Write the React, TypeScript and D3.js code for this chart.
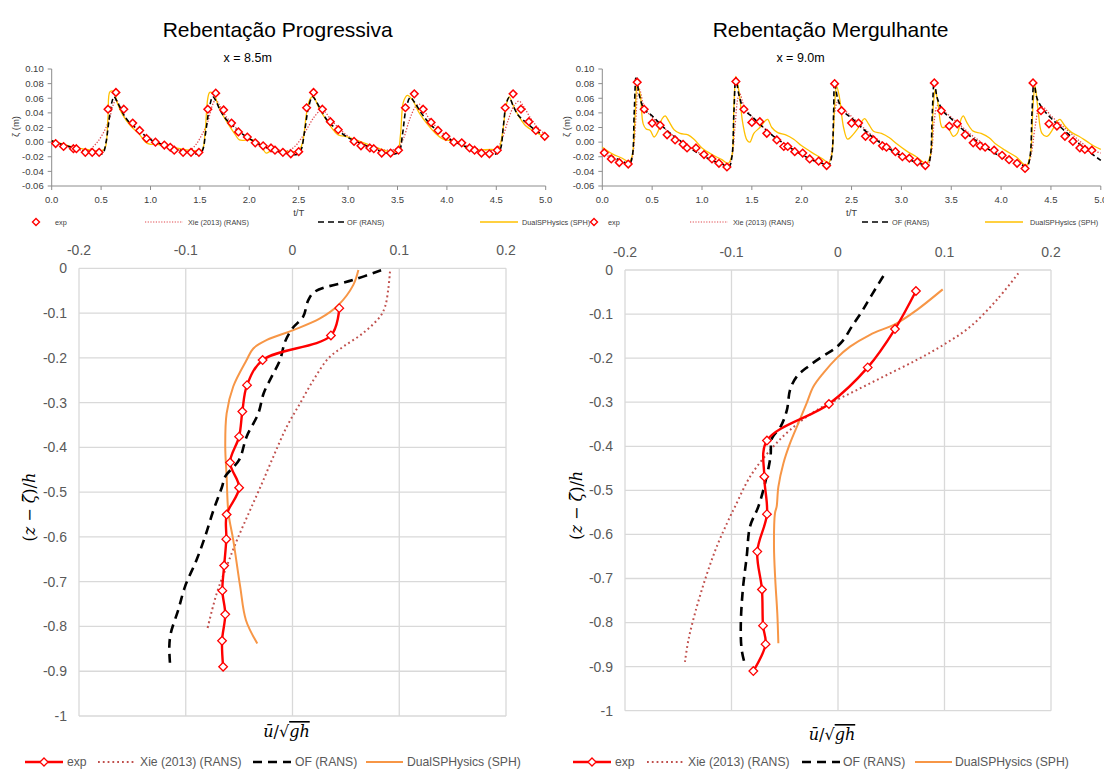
import React from 'react';
import * as d3 from 'd3';

// time series (top): t/T vs free surface elevation
const tTicks = [0, 0.5, 1, 1.5, 2, 2.5, 3, 3.5, 4, 4.5, 5];
const zetaTicks = [-0.06, -0.04, -0.02, 0, 0.02, 0.04, 0.06, 0.08, 0.1];

type Pt = [number, number];

// x = 8.5m (Rebentação Progressiva)
const progExp: Pt[] = [
  [0.04, -0.002], [0.12, -0.006], [0.22, -0.009], [0.25, -0.009], [0.34, -0.014], [0.41, -0.014], [0.48, -0.014],
  [0.57, 0.045], [0.65, 0.068], [0.73, 0.045], [0.82, 0.026], [0.89, 0.016], [0.96, 0.005], [1.05, 0.0],
  [1.14, -0.004], [1.2, -0.007], [1.24, -0.011], [1.33, -0.014], [1.41, -0.014], [1.49, -0.014],
  [1.58, 0.045], [1.66, 0.067], [1.74, 0.044], [1.82, 0.026], [1.89, 0.014], [1.98, 0.007], [2.06, -0.001],
  [2.14, -0.005], [2.22, -0.008], [2.26, -0.011], [2.34, -0.014], [2.42, -0.016], [2.5, -0.013],
  [2.58, 0.047], [2.65, 0.068], [2.74, 0.045], [2.82, 0.028], [2.9, 0.017], [3.06, 0.001], [3.13, -0.005],
  [3.22, -0.008], [3.26, -0.009], [3.34, -0.015], [3.43, -0.015], [3.51, -0.011],
  [3.58, 0.047], [3.67, 0.066], [3.76, 0.045], [3.84, 0.027], [3.91, 0.016], [3.99, 0.008], [4.07, 0.0],
  [4.15, -0.001], [4.23, -0.008], [4.28, -0.011], [4.35, -0.015], [4.43, -0.016], [4.51, -0.011],
  [4.59, 0.047], [4.67, 0.066], [4.75, 0.045], [4.83, 0.028], [4.9, 0.016], [4.99, 0.008],
];
const progXie: Pt[] = [
  [0, 0.0], [0.1, -0.004], [0.2, -0.008], [0.3, -0.011], [0.36, -0.012], [0.45, -0.002], [0.52, 0.012], [0.58, 0.03],
  [0.62, 0.05], [0.65, 0.058], [0.68, 0.052], [0.72, 0.038], [0.8, 0.025], [0.9, 0.014], [1.0, 0.005], [1.1, -0.002],
  [1.2, -0.007], [1.3, -0.01], [1.38, -0.012], [1.45, -0.005], [1.52, 0.01], [1.58, 0.028], [1.62, 0.048], [1.66, 0.058],
  [1.7, 0.05], [1.75, 0.038], [1.82, 0.026], [1.9, 0.015], [2.0, 0.005], [2.1, -0.003], [2.2, -0.008], [2.3, -0.011],
  [2.38, -0.012], [2.46, -0.006], [2.54, 0.008], [2.6, 0.022], [2.66, 0.035], [2.72, 0.043], [2.76, 0.042], [2.82, 0.032],
  [2.9, 0.02], [3.0, 0.008], [3.1, 0.0], [3.2, -0.005], [3.3, -0.009], [3.4, -0.011], [3.5, -0.008], [3.56, 0.005],
  [3.62, 0.03], [3.68, 0.048], [3.72, 0.052], [3.76, 0.046], [3.82, 0.032], [3.9, 0.02], [4.0, 0.008], [4.1, 0.0],
  [4.2, -0.005], [4.3, -0.009], [4.4, -0.011], [4.5, -0.01], [4.56, 0.005], [4.62, 0.03], [4.68, 0.05], [4.73, 0.056],
  [4.78, 0.048], [4.85, 0.032], [4.92, 0.02], [5.0, 0.01],
];
const progOF: Pt[] = [
  [0, 0.002], [0.1, -0.003], [0.2, -0.007], [0.3, -0.011], [0.4, -0.015], [0.48, -0.017], [0.52, -0.015], [0.55, 0.0],
  [0.58, 0.03], [0.61, 0.055], [0.63, 0.062], [0.66, 0.056], [0.7, 0.045], [0.75, 0.033], [0.8, 0.025], [0.88, 0.017],
  [0.95, 0.008], [1.05, 0.0], [1.15, -0.004], [1.25, -0.009], [1.35, -0.013], [1.45, -0.016], [1.5, -0.016], [1.53, -0.01],
  [1.56, 0.015], [1.6, 0.05], [1.63, 0.062], [1.66, 0.057], [1.7, 0.045], [1.76, 0.032], [1.82, 0.024], [1.9, 0.014],
  [2.0, 0.005], [2.1, -0.003], [2.2, -0.009], [2.3, -0.013], [2.4, -0.016], [2.48, -0.017], [2.52, -0.012], [2.56, 0.015],
  [2.6, 0.048], [2.64, 0.062], [2.68, 0.055], [2.74, 0.04], [2.8, 0.028], [2.9, 0.016], [3.0, 0.006], [3.1, 0.0],
  [3.2, -0.006], [3.3, -0.011], [3.4, -0.015], [3.48, -0.016], [3.52, -0.012], [3.55, 0.01], [3.59, 0.048], [3.63, 0.061],
  [3.67, 0.055], [3.74, 0.04], [3.82, 0.026], [3.9, 0.016], [4.0, 0.006], [4.1, -0.001], [4.2, -0.007], [4.3, -0.012],
  [4.4, -0.015], [4.5, -0.016], [4.54, -0.01], [4.57, 0.02], [4.6, 0.052], [4.63, 0.061], [4.67, 0.05], [4.72, 0.037],
  [4.8, 0.027], [4.9, 0.016], [5.0, 0.007],
];
const progDual: Pt[] = [
  [0, 0.002], [0.1, -0.002], [0.2, -0.006], [0.3, -0.009], [0.4, -0.011], [0.5, -0.012], [0.54, -0.008], [0.57, 0.035],
  [0.59, 0.069], [0.63, 0.069], [0.66, 0.055], [0.72, 0.037], [0.8, 0.022], [0.88, 0.012], [0.95, 0.0], [1.0, -0.003],
  [1.06, -0.003], [1.15, -0.005], [1.3, -0.009], [1.4, -0.011], [1.52, -0.011], [1.55, 0.01], [1.58, 0.06], [1.6, 0.068],
  [1.64, 0.066], [1.68, 0.052], [1.74, 0.035], [1.8, 0.022], [1.86, 0.01], [1.9, 0.003], [2.0, 0.003], [2.06, 0.002],
  [2.12, -0.005], [2.17, -0.015], [2.22, -0.012], [2.3, -0.012], [2.42, -0.013], [2.5, -0.012], [2.54, 0.0], [2.58, 0.04],
  [2.62, 0.06], [2.65, 0.062], [2.7, 0.048], [2.78, 0.03], [2.86, 0.015], [2.9, 0.01], [3.0, 0.007], [3.1, 0.002],
  [3.2, -0.003], [3.3, -0.008], [3.42, -0.013], [3.5, -0.012], [3.53, 0.01], [3.56, 0.055], [3.6, 0.064], [3.65, 0.058],
  [3.72, 0.04], [3.8, 0.025], [3.9, 0.01], [3.98, 0.003], [4.08, 0.002], [4.15, -0.003], [4.22, -0.01], [4.3, -0.011],
  [4.45, -0.01], [4.52, -0.01], [4.56, 0.01], [4.6, 0.05], [4.63, 0.062], [4.67, 0.05], [4.73, 0.035], [4.8, 0.022],
  [4.88, 0.015], [4.95, 0.01], [5.0, 0.007],
];

// x = 9.0m (Rebentação Mergulhante)
const plungExp: Pt[] = [
  [0.02, -0.0145], [0.09, -0.023], [0.17, -0.028], [0.26, -0.03], [0.35, 0.082], [0.42, 0.045], [0.5, 0.026], [0.58, 0.023],
  [0.65, 0.01], [0.73, 0.003], [0.81, -0.003], [0.85, -0.008], [0.94, -0.008], [1.02, -0.017], [1.1, -0.023], [1.17, -0.029],
  [1.25, -0.034], [1.34, 0.083], [1.42, 0.045], [1.5, 0.027], [1.58, 0.028], [1.65, 0.012], [1.75, 0.003], [1.82, -0.006],
  [1.86, -0.006], [1.93, -0.013], [2.01, -0.015], [2.08, -0.023], [2.17, -0.026], [2.25, -0.032], [2.33, 0.08], [2.4, 0.043],
  [2.5, 0.026], [2.57, 0.026], [2.64, 0.008], [2.72, 0.003], [2.81, -0.005], [2.85, -0.007], [2.94, -0.013], [3.01, -0.02],
  [3.08, -0.022], [3.16, -0.027], [3.24, -0.032], [3.33, 0.081], [3.4, 0.043], [3.48, 0.022], [3.56, 0.025], [3.64, 0.01],
  [3.72, -0.001], [3.79, -0.005], [3.84, -0.007], [3.93, -0.011], [4.01, -0.018], [4.08, -0.024], [4.16, -0.029], [4.24, -0.036],
  [4.32, 0.081], [4.4, 0.043], [4.48, 0.025], [4.56, 0.022], [4.64, 0.008], [4.72, 0.001], [4.79, -0.008], [4.84, -0.01],
  [4.91, -0.011],
];
const plungXie: Pt[] = [
  [0, -0.015], [0.1, -0.022], [0.2, -0.028], [0.27, -0.031], [0.3, -0.022], [0.32, 0.0], [0.34, 0.04], [0.36, 0.075],
  [0.38, 0.07], [0.42, 0.048], [0.5, 0.034], [0.6, 0.022], [0.7, 0.01], [0.8, 0.0], [0.9, -0.009], [1.0, -0.017],
  [1.1, -0.024], [1.2, -0.03], [1.26, -0.033], [1.3, -0.02], [1.33, 0.02], [1.36, 0.06], [1.38, 0.066], [1.42, 0.05],
  [1.5, 0.035], [1.6, 0.022], [1.7, 0.01], [1.8, 0.0], [1.9, -0.009], [2.0, -0.017], [2.1, -0.023], [2.2, -0.028],
  [2.26, -0.031], [2.3, -0.015], [2.33, 0.04], [2.36, 0.055], [2.4, 0.048], [2.5, 0.035], [2.6, 0.022], [2.7, 0.01],
  [2.8, 0.0], [2.9, -0.009], [3.0, -0.017], [3.1, -0.024], [3.2, -0.029], [3.26, -0.032], [3.3, -0.015], [3.33, 0.03],
  [3.36, 0.05], [3.4, 0.045], [3.5, 0.034], [3.6, 0.022], [3.7, 0.01], [3.8, 0.0], [3.9, -0.009], [4.0, -0.017],
  [4.1, -0.024], [4.2, -0.029], [4.26, -0.032], [4.3, -0.018], [4.34, 0.02], [4.38, 0.045], [4.42, 0.048], [4.5, 0.036],
  [4.6, 0.024], [4.7, 0.012], [4.8, 0.0], [4.9, -0.01], [5.0, -0.015],
];
const plungOF: Pt[] = [
  [0, -0.013], [0.1, -0.02], [0.2, -0.026], [0.27, -0.03], [0.3, -0.02], [0.32, 0.04], [0.34, 0.09], [0.37, 0.065],
  [0.42, 0.045], [0.5, 0.036], [0.6, 0.022], [0.7, 0.01], [0.8, 0.0], [0.9, -0.01], [1.0, -0.018], [1.1, -0.025],
  [1.2, -0.03], [1.27, -0.034], [1.3, -0.02], [1.32, 0.04], [1.34, 0.088], [1.37, 0.065], [1.42, 0.045], [1.5, 0.035],
  [1.6, 0.022], [1.7, 0.01], [1.8, 0.0], [1.9, -0.009], [2.0, -0.017], [2.1, -0.024], [2.2, -0.029], [2.27, -0.032],
  [2.3, -0.02], [2.32, 0.04], [2.33, 0.082], [2.36, 0.06], [2.42, 0.042], [2.5, 0.033], [2.6, 0.02], [2.7, 0.008],
  [2.8, -0.002], [2.9, -0.011], [3.0, -0.019], [3.1, -0.025], [3.2, -0.03], [3.26, -0.033], [3.29, -0.02], [3.31, 0.04],
  [3.33, 0.083], [3.36, 0.06], [3.42, 0.042], [3.5, 0.032], [3.6, 0.019], [3.7, 0.007], [3.8, -0.003], [3.9, -0.012],
  [4.0, -0.02], [4.1, -0.026], [4.2, -0.031], [4.26, -0.033], [4.29, -0.02], [4.31, 0.04], [4.33, 0.082], [4.36, 0.06],
  [4.42, 0.045], [4.5, 0.033], [4.6, 0.02], [4.7, 0.008], [4.8, -0.004], [4.9, -0.015], [5.0, -0.025],
];
const plungDual: Pt[] = [
  [0, -0.007], [0.1, -0.016], [0.2, -0.022], [0.27, -0.027], [0.3, -0.018], [0.33, 0.04], [0.35, 0.078], [0.38, 0.065],
  [0.41, 0.025], [0.44, 0.018], [0.48, 0.016], [0.52, 0.007], [0.56, 0.015], [0.6, 0.032], [0.63, 0.036], [0.67, 0.028],
  [0.72, 0.017], [0.78, 0.012], [0.86, 0.01], [0.92, 0.004], [1.0, -0.008], [1.1, -0.017], [1.2, -0.024], [1.26, -0.029],
  [1.3, -0.018], [1.32, 0.05], [1.34, 0.09], [1.37, 0.07], [1.41, 0.025], [1.45, 0.003], [1.48, 0.0], [1.52, 0.012],
  [1.58, 0.02], [1.64, 0.03], [1.66, 0.031], [1.7, 0.02], [1.76, 0.013], [1.84, 0.01], [1.92, 0.004], [2.0, -0.005],
  [2.1, -0.014], [2.2, -0.022], [2.27, -0.028], [2.3, -0.018], [2.33, 0.05], [2.35, 0.077], [2.38, 0.06], [2.42, 0.02],
  [2.46, 0.004], [2.5, 0.008], [2.56, 0.018], [2.63, 0.032], [2.67, 0.025], [2.72, 0.015], [2.8, 0.012], [2.88, 0.006],
  [2.95, -0.002], [3.05, -0.012], [3.15, -0.02], [3.25, -0.029], [3.29, -0.018], [3.32, 0.05], [3.34, 0.072], [3.37, 0.05],
  [3.41, 0.02], [3.46, 0.021], [3.52, 0.008], [3.56, 0.012], [3.6, 0.032], [3.62, 0.036], [3.66, 0.026], [3.72, 0.015],
  [3.8, 0.012], [3.88, 0.006], [3.95, -0.003], [4.05, -0.012], [4.15, -0.02], [4.25, -0.032], [4.29, -0.02], [4.32, 0.05],
  [4.34, 0.077], [4.37, 0.045], [4.41, 0.012], [4.46, 0.008], [4.52, 0.018], [4.56, 0.028], [4.59, 0.031], [4.64, 0.022],
  [4.7, 0.014], [4.78, 0.008], [4.86, 0.001], [4.94, -0.006], [5.0, -0.01],
];

// velocity profiles (bottom): [u/sqrt(gh), (z - zeta)/h]
const uTicks = [-0.2, -0.1, 0, 0.1, 0.2];
const depthTicks = [-1, -0.9, -0.8, -0.7, -0.6, -0.5, -0.4, -0.3, -0.2, -0.1, 0];

const progProfExp: Pt[] = [
  [0.0438, -0.089], [0.036, -0.15], [-0.028, -0.205], [-0.0426, -0.261], [-0.047, -0.32], [-0.05, -0.376], [-0.0585, -0.434],
  [-0.05, -0.49], [-0.0617, -0.55], [-0.062, -0.605], [-0.064, -0.664], [-0.0657, -0.72], [-0.063, -0.773], [-0.066, -0.832],
  [-0.065, -0.89],
];
const progProfXie: Pt[] = [
  [0.0913, -0.0075], [0.0898, -0.045], [0.0867, -0.086], [0.082, -0.108], [0.066, -0.145], [0.0476, -0.175], [0.0336, -0.201],
  [0.0195, -0.25], [0.007, -0.302], [-0.0054, -0.354], [-0.018, -0.421], [-0.03, -0.488], [-0.041, -0.547], [-0.052, -0.607],
  [-0.0617, -0.666], [-0.071, -0.726], [-0.08, -0.808],
];
const progProfOF: Pt[] = [
  [0.083, -0.0045], [0.057, -0.026], [0.021, -0.052], [0.0148, -0.071], [0.01, -0.108], [0.0, -0.134], [-0.007, -0.164],
  [-0.0117, -0.205], [-0.0195, -0.242], [-0.027, -0.279], [-0.032, -0.324], [-0.043, -0.376], [-0.05, -0.428], [-0.063, -0.465],
  [-0.066, -0.488], [-0.074, -0.54], [-0.082, -0.6], [-0.09, -0.652], [-0.1007, -0.711], [-0.107, -0.763], [-0.114, -0.815],
  [-0.1154, -0.845], [-0.1148, -0.881],
];
const progProfDual: Pt[] = [
  [0.0617, -0.004], [0.057, -0.037], [0.043, -0.082], [0.0258, -0.112], [0.0008, -0.138], [-0.024, -0.16], [-0.0367, -0.179],
  [-0.043, -0.205], [-0.0555, -0.264], [-0.0617, -0.324], [-0.063, -0.398], [-0.0617, -0.465], [-0.06, -0.547], [-0.0555, -0.607],
  [-0.049, -0.711], [-0.0436, -0.786], [-0.033, -0.838],
];

const plungProfExp: Pt[] = [
  [0.0732, -0.0477], [0.0535, -0.134], [0.0279, -0.221], [-0.0085, -0.304], [-0.0667, -0.387], [-0.0692, -0.469],
  [-0.0667, -0.554], [-0.0758, -0.639], [-0.0714, -0.725], [-0.0704, -0.807], [-0.068, -0.849], [-0.0795, -0.91],
];
const plungProfXie: Pt[] = [
  [0.1693, -0.0076], [0.149, -0.068], [0.124, -0.129], [0.0989, -0.17], [0.0739, -0.204], [0.0426, -0.242], [0.0113, -0.28],
  [-0.02, -0.318], [-0.045, -0.363], [-0.0634, -0.408], [-0.0826, -0.469], [-0.0967, -0.537], [-0.1014, -0.56],
  [-0.1139, -0.628], [-0.1249, -0.703], [-0.1343, -0.779], [-0.1405, -0.84], [-0.1437, -0.889],
];
const plungProfOF: Pt[] = [
  [0.0426, -0.0136], [0.0316, -0.057], [0.0222, -0.095], [0.0128, -0.129], [0.005, -0.159], [-0.0028, -0.178], [-0.0138, -0.195],
  [-0.028, -0.219], [-0.0388, -0.242], [-0.045, -0.272], [-0.048, -0.318], [-0.054, -0.356], [-0.062, -0.382], [-0.0634, -0.424],
  [-0.0685, -0.484], [-0.0748, -0.537], [-0.0826, -0.582], [-0.0857, -0.65], [-0.0894, -0.726], [-0.0913, -0.809],
  [-0.0904, -0.862], [-0.0873, -0.896],
];
const plungProfDual: Pt[] = [
  [0.0983, -0.044], [0.0739, -0.091], [0.0551, -0.121], [0.03, -0.147], [0.0113, -0.174], [-0.0012, -0.2], [-0.0138, -0.234],
  [-0.0232, -0.265], [-0.0294, -0.302], [-0.0373, -0.348], [-0.045, -0.393], [-0.0513, -0.439], [-0.056, -0.492],
  [-0.0576, -0.537], [-0.0592, -0.552], [-0.0601, -0.628], [-0.0589, -0.703], [-0.057, -0.779], [-0.056, -0.847],
];

const FONT = '"Liberation Sans", Arial, sans-serif';
const SERIF = '"DejaVu Serif", "Liberation Serif", serif';
const RED = '#FF0000';
const XIE_TOP = '#E0474C';
const XIE = '#C0504D';
const GOLD = '#FFC000';
const ORANGE = '#F79646';

const diamond = (r: number) => `M0,${-r}L${r},0L0,${r}L${-r},0Z`;

type LegendPos = { exp: number; expText: number; xie: [number, number]; of: [number, number]; dual: [number, number] };

const TimeSeries = ({ left, right, title, sub, exp, xie, of, dual, leg }: {
  left: number; right: number; title: string; sub: string;
  exp: Pt[]; xie: Pt[]; of: Pt[]; dual: Pt[]; leg: LegendPos;
}) => {
  const top = 69, bottom = 186;
  const x = d3.scaleLinear().domain([0, 5]).range([left, right]);
  const y = d3.scaleLinear().domain([-0.06, 0.1]).range([bottom, top]);
  const line = d3.line<Pt>().x(d => x(d[0])).y(d => y(d[1])).curve(d3.curveCatmullRom.alpha(0.5));
  const cx = (left + right) / 2;
  const ly = 222;
  return (
    <g>
      <text x={cx - 21} y={37} textAnchor="middle" fontFamily={FONT} fontSize={21} fill="#000">{title}</text>
      <text x={cx - 51} y={62} textAnchor="middle" fontFamily={FONT} fontSize={12.5} fill="#000">{sub}</text>
      {/* axes */}
      <line x1={left} x2={left} y1={top} y2={bottom} stroke="#8c8c8c" strokeWidth={1} />
      <line x1={left} x2={right} y1={bottom} y2={bottom} stroke="#8c8c8c" strokeWidth={1} />
      {zetaTicks.map(t => (
        <g key={t}>
          <line x1={left - 4} x2={left} y1={y(t)} y2={y(t)} stroke="#8c8c8c" />
          <text x={left - 8} y={y(t)} dy="0.35em" textAnchor="end" fontFamily={FONT} fontSize={9.5} fill="#404040">{t.toFixed(2)}</text>
        </g>
      ))}
      {tTicks.map(t => (
        <g key={t}>
          <line x1={x(t)} x2={x(t)} y1={bottom} y2={bottom + 4} stroke="#8c8c8c" />
          <text x={x(t)} y={200} dy="0.35em" textAnchor="middle" fontFamily={FONT} fontSize={9.5} fill="#404040">{t.toFixed(1)}</text>
        </g>
      ))}
      <text transform={`translate(${left - 36},${(top + bottom) / 2 - 1}) rotate(-90)`} textAnchor="middle" dy="0.35em" fontFamily={FONT} fontSize={9.5} fill="#404040">ζ (m)</text>
      <text x={cx} y={213} dy="0.35em" textAnchor="middle" fontFamily={FONT} fontSize={9.5} fill="#404040">t/T</text>
      {/* series */}
      <path d={line(xie) ?? ''} fill="none" stroke={XIE_TOP} strokeWidth={1.3} strokeDasharray="1.3 1.6" />
      <path d={line(dual) ?? ''} fill="none" stroke={GOLD} strokeWidth={1.3} />
      <path d={line(of) ?? ''} fill="none" stroke="#000" strokeWidth={1.6} strokeDasharray="5 3" />
      {exp.map((d, i) => (
        <path key={i} d={diamond(3.8)} transform={`translate(${x(d[0])},${y(d[1])})`} fill="#fff" stroke={RED} strokeWidth={1.5} />
      ))}
      {/* legend */}
      <path d={diamond(3.5)} transform={`translate(${leg.exp},${ly})`} fill="#fff" stroke={RED} strokeWidth={1.4} />
      <text x={leg.expText} y={ly} dy="0.35em" fontFamily={FONT} fontSize={7.3} fill="#404040">exp</text>
      <line x1={leg.xie[0]} x2={leg.xie[0] + 38} y1={ly} y2={ly} stroke={XIE_TOP} strokeWidth={1.2} strokeDasharray="1.2 1.5" />
      <text x={leg.xie[1]} y={ly} dy="0.35em" fontFamily={FONT} fontSize={7.3} fill="#404040">Xie (2013) (RANS)</text>
      <line x1={leg.of[0]} x2={leg.of[0] + 26} y1={ly} y2={ly} stroke="#000" strokeWidth={1.6} strokeDasharray="6 4" />
      <text x={leg.of[1]} y={ly} dy="0.35em" fontFamily={FONT} fontSize={7.3} fill="#404040">OF (RANS)</text>
      <line x1={leg.dual[0]} x2={leg.dual[0] + 38} y1={ly} y2={ly} stroke={GOLD} strokeWidth={1.4} />
      <text x={leg.dual[1]} y={ly} dy="0.35em" fontFamily={FONT} fontSize={7.3} fill="#404040">DualSPHysics (SPH)</text>
    </g>
  );
};

type BLegend = { exp: number; expText: number; xie: [number, number]; of: [number, number]; dual: [number, number] };

const Profile = ({ left, right, top, bottom, exp, xie, of, dual, leg, yLabelX, xLabelY }: {
  left: number; right: number; top: number; bottom: number;
  exp: Pt[]; xie: Pt[]; of: Pt[]; dual: Pt[]; leg: BLegend; yLabelX: number; xLabelY: number;
}) => {
  const x = d3.scaleLinear().domain([-0.2, 0.2]).range([left, right]);
  const y = d3.scaleLinear().domain([-1, 0]).range([bottom, top]);
  const line = d3.line<Pt>().x(d => x(d[0])).y(d => y(d[1])).curve(d3.curveCatmullRom.alpha(0.5));
  const ly = 762;
  const cx = (left + right) / 2;
  return (
    <g>
      {uTicks.map(t => (
        <g key={t}>
          <line x1={x(t)} x2={x(t)} y1={top} y2={bottom} stroke="#d9d9d9" strokeWidth={1.3} />
          <text x={x(t)} y={top - 18} dy="0.35em" textAnchor="middle" fontFamily={FONT} fontSize={14} fill="#595959">{t === 0 ? '0' : String(t)}</text>
        </g>
      ))}
      {depthTicks.map(t => (
        <g key={t}>
          <line x1={left} x2={right} y1={y(t)} y2={y(t)} stroke="#d9d9d9" strokeWidth={1.3} />
          <text x={left - 12} y={y(t)} dy="0.35em" textAnchor="end" fontFamily={FONT} fontSize={14} fill="#595959">{t === 0 ? '0' : t === -1 ? '-1' : String(t)}</text>
        </g>
      ))}
      <path d={line(xie) ?? ''} fill="none" stroke={XIE} strokeWidth={2} strokeDasharray="1.8 3" />
      <path d={line(dual) ?? ''} fill="none" stroke={ORANGE} strokeWidth={2} />
      <path d={line(of) ?? ''} fill="none" stroke="#000" strokeWidth={2.6} strokeDasharray="9 6" />
      <path d={line(exp) ?? ''} fill="none" stroke={RED} strokeWidth={2.4} />
      {exp.map((d, i) => (
        <path key={i} d={diamond(4.3)} transform={`translate(${x(d[0])},${y(d[1])})`} fill="#fff" stroke={RED} strokeWidth={1.3} />
      ))}
      {/* axis titles */}
      <text x={cx - 6} y={xLabelY} textAnchor="middle" fontFamily={SERIF} fontSize={16} fill="#000">
        <tspan fontStyle="italic">ū</tspan>/√<tspan fontStyle="italic" textDecoration="overline">gh</tspan>
      </text>
      <text transform={`translate(${yLabelX},${(top + bottom) / 2 + 15}) rotate(-90)`} textAnchor="middle" fontFamily={SERIF} fontSize={16} fill="#000">
        (<tspan fontStyle="italic">z</tspan> − <tspan fontStyle="italic">ζ̄</tspan>)/<tspan fontStyle="italic">h</tspan>
      </text>
      {/* legend */}
      <line x1={leg.exp - 19} x2={leg.exp + 19} y1={ly} y2={ly} stroke={RED} strokeWidth={2.4} />
      <path d={diamond(4)} transform={`translate(${leg.exp},${ly})`} fill="#fff" stroke={RED} strokeWidth={1.3} />
      <text x={leg.expText} y={ly} dy="0.35em" fontFamily={FONT} fontSize={12.2} fill="#595959">exp</text>
      <line x1={leg.xie[0]} x2={leg.xie[0] + 36} y1={ly} y2={ly} stroke={XIE} strokeWidth={2} strokeDasharray="1.8 3" />
      <text x={leg.xie[1]} y={ly} dy="0.35em" fontFamily={FONT} fontSize={12.2} fill="#595959">Xie (2013) (RANS)</text>
      <line x1={leg.of[0]} x2={leg.of[0] + 38} y1={ly} y2={ly} stroke="#000" strokeWidth={2.6} strokeDasharray="9 6" />
      <text x={leg.of[1]} y={ly} dy="0.35em" fontFamily={FONT} fontSize={12.2} fill="#595959">OF (RANS)</text>
      <line x1={leg.dual[0]} x2={leg.dual[0] + 37} y1={ly} y2={ly} stroke={ORANGE} strokeWidth={2} />
      <text x={leg.dual[1]} y={ly} dy="0.35em" fontFamily={FONT} fontSize={12.2} fill="#595959">DualSPHysics (SPH)</text>
    </g>
  );
};

export default function App() {
  return (
    <svg width={1104} height={770} viewBox="0 0 1104 770" style={{ position: 'absolute', left: 0, top: 0, background: '#fff' }}>
      <TimeSeries left={51.7} right={545.7} title="Rebentação Progressiva" sub="x = 8.5m"
        exp={progExp} xie={progXie} of={progOF} dual={progDual}
        leg={{ exp: 36, expText: 55, xie: [145, 188], of: [318, 347], dual: [480, 522] }} />
      <TimeSeries left={602.3} right={1100.8} title="Rebentação Mergulhante" sub="x = 9.0m"
        exp={plungExp} xie={plungXie} of={plungOF} dual={plungDual}
        leg={{ exp: 594, expText: 608, xie: [690, 733], of: [862, 892], dual: [985, 1030] }} />
      <Profile left={79} right={506} top={268.3} bottom={716} yLabelX={35} xLabelY={737}
        exp={progProfExp} xie={progProfXie} of={progProfOF} dual={progProfDual}
        leg={{ exp: 44, expText: 67, xie: [98, 140], of: [253, 295], dual: [366, 407] }} />
      <Profile left={625} right={1051} top={270} bottom={710.7} yLabelX={582} xLabelY={740}
        exp={plungProfExp} xie={plungProfXie} of={plungProfOF} dual={plungProfDual}
        leg={{ exp: 592, expText: 615, xie: [647, 688], of: [802, 843], dual: [915, 955] }} />
    </svg>
  );
}
